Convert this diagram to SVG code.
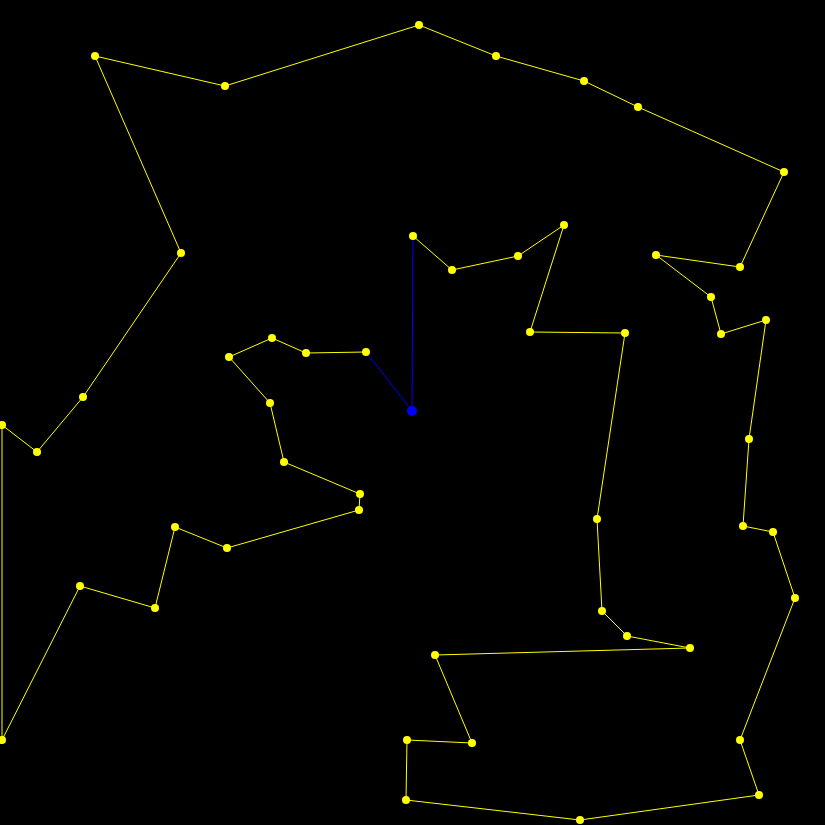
<svg xmlns="http://www.w3.org/2000/svg" width="825" height="825" viewBox="0 0 825 825">
<style>
.e{stroke:#ffff00;stroke-width:1;fill:none}
.b{stroke:#0000ff;stroke-width:1;fill:none}
.n{fill:#ffff00}
</style>
<rect x="0" y="0" width="825" height="825" fill="#000"/>
<g id="connectors">
<polyline class="e" points="366,352 306,353 272,338 229,357 270,403 284,462 360,494 359,510 227,548 175,527 155,608 80,586 2,740 2,425 37,452 83,397 181,253 95,56 225,86 419,25 496,56 584,81 638,107 784,172 740,267 656,255 711,297 721,334 766,320 749,439 743,526 773,532 795,598 740,740 759,795 580,820 406,800 407,740 472,743 435,655 690,648 627,636 602,611 597,519 625,333 530,332 564,225 518,256 452,270 413,236"/>
<line class="b" x1="413" y1="236" x2="412" y2="411"/>
<line class="b" x1="412" y1="411" x2="366" y2="352"/>
</g>
<g id="nodes">
<circle id="n0" cx="366" cy="352" r="4" class="n"/>
<circle id="n1" cx="306" cy="353" r="4" class="n"/>
<circle id="n2" cx="272" cy="338" r="4" class="n"/>
<circle id="n3" cx="229" cy="357" r="4" class="n"/>
<circle id="n4" cx="270" cy="403" r="4" class="n"/>
<circle id="n5" cx="284" cy="462" r="4" class="n"/>
<circle id="n6" cx="360" cy="494" r="4" class="n"/>
<circle id="n7" cx="359" cy="510" r="4" class="n"/>
<circle id="n8" cx="227" cy="548" r="4" class="n"/>
<circle id="n9" cx="175" cy="527" r="4" class="n"/>
<circle id="n10" cx="155" cy="608" r="4" class="n"/>
<circle id="n11" cx="80" cy="586" r="4" class="n"/>
<circle id="n12" cx="2" cy="740" r="4" class="n"/>
<circle id="n13" cx="2" cy="425" r="4" class="n"/>
<circle id="n14" cx="37" cy="452" r="4" class="n"/>
<circle id="n15" cx="83" cy="397" r="4" class="n"/>
<circle id="n16" cx="181" cy="253" r="4" class="n"/>
<circle id="n17" cx="95" cy="56" r="4" class="n"/>
<circle id="n18" cx="225" cy="86" r="4" class="n"/>
<circle id="n19" cx="419" cy="25" r="4" class="n"/>
<circle id="n20" cx="496" cy="56" r="4" class="n"/>
<circle id="n21" cx="584" cy="81" r="4" class="n"/>
<circle id="n22" cx="638" cy="107" r="4" class="n"/>
<circle id="n23" cx="784" cy="172" r="4" class="n"/>
<circle id="n24" cx="740" cy="267" r="4" class="n"/>
<circle id="n25" cx="656" cy="255" r="4" class="n"/>
<circle id="n26" cx="711" cy="297" r="4" class="n"/>
<circle id="n27" cx="721" cy="334" r="4" class="n"/>
<circle id="n28" cx="766" cy="320" r="4" class="n"/>
<circle id="n29" cx="749" cy="439" r="4" class="n"/>
<circle id="n30" cx="743" cy="526" r="4" class="n"/>
<circle id="n31" cx="773" cy="532" r="4" class="n"/>
<circle id="n32" cx="795" cy="598" r="4" class="n"/>
<circle id="n33" cx="740" cy="740" r="4" class="n"/>
<circle id="n34" cx="759" cy="795" r="4" class="n"/>
<circle id="n35" cx="580" cy="820" r="4" class="n"/>
<circle id="n36" cx="406" cy="800" r="4" class="n"/>
<circle id="n37" cx="407" cy="740" r="4" class="n"/>
<circle id="n38" cx="472" cy="743" r="4" class="n"/>
<circle id="n39" cx="435" cy="655" r="4" class="n"/>
<circle id="n40" cx="690" cy="648" r="4" class="n"/>
<circle id="n41" cx="627" cy="636" r="4" class="n"/>
<circle id="n42" cx="602" cy="611" r="4" class="n"/>
<circle id="n43" cx="597" cy="519" r="4" class="n"/>
<circle id="n44" cx="625" cy="333" r="4" class="n"/>
<circle id="n45" cx="530" cy="332" r="4" class="n"/>
<circle id="n46" cx="564" cy="225" r="4" class="n"/>
<circle id="n47" cx="518" cy="256" r="4" class="n"/>
<circle id="n48" cx="452" cy="270" r="4" class="n"/>
<circle id="n49" cx="413" cy="236" r="4" class="n"/>
<circle id="start" cx="412" cy="411" r="5" fill="#0000ff"/>
</g>
</svg>
